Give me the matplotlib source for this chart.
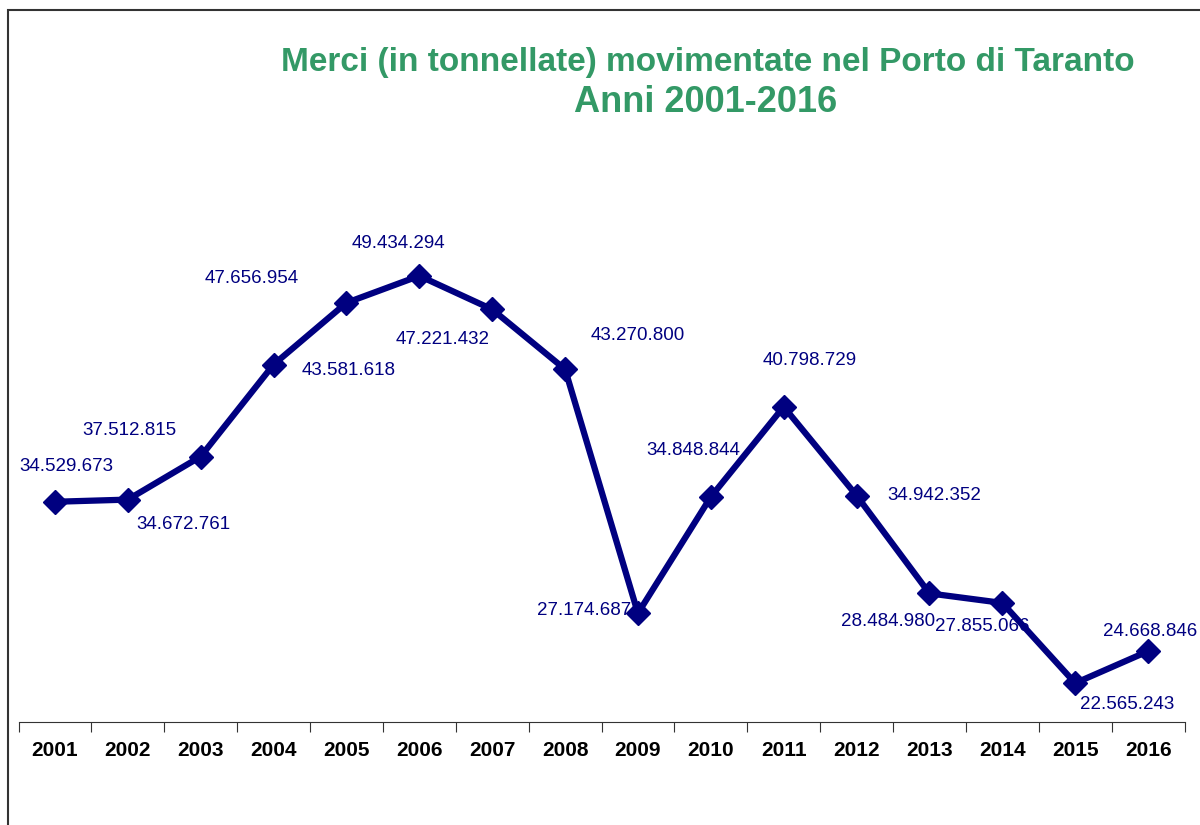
import matplotlib.pyplot as plt
from matplotlib.patches import Rectangle

years = ["2001", "2002", "2003", "2004", "2005", "2006", "2007", "2008",
         "2009", "2010", "2011", "2012", "2013", "2014", "2015", "2016"]
tonnes = [34529673, 34672761, 37512815, 43581618, 47656954, 49434294, 47221432, 43270800,
          27174687, 34848844, 40798729, 34942352, 28484980, 27855066, 22565243, 24668846]

# label offsets in pixels (dx, dy) from each point, picked to mimic the original placement
offsets = [(11, 35), (56, -25), (-71, 26), (75, -6), (-95, 24), (-21, 32), (-50, -30), (73, 34),
           (-54, 3), (-18, 46), (26, 46), (78, 0), (-41, -28), (-20, -24), (52, -21), (2, 20)]

navy = "#000080"
green = "#339966"

plt.rcParams['font.family'] = ['Liberation Sans', 'DejaVu Sans']

fig = plt.figure(figsize=(12, 8.25), dpi=100)
ax = fig.add_axes([18.5 / 1200, 103 / 825, 1166 / 1200, 530.5 / 825])

x = list(range(len(years)))
ax.plot(x, tonnes, color=navy, lw=4.5, marker="D", ms=12, mec=navy, mfc=navy, zorder=3)

def fmt(v):
    return f"{v:,}".replace(",", ".")

for i, v in enumerate(tonnes):
    dx, dy = offsets[i]
    ax.annotate(fmt(v), (i, v), xytext=(dx * 0.72, dy * 0.72), textcoords="offset points",
                ha="center", va="center", color=navy, fontsize=13.5)

ax.set_xlim(-0.5, len(years) - 0.5)
ax.set_ylim(20e6, 55e6)
for s in ["top", "right", "left"]:
    ax.spines[s].set_visible(False)
ax.spines["bottom"].set_color("#333333")
ax.set_yticks([])
ax.set_xticks([i - 0.5 for i in range(len(years) + 1)], minor=False)
ax.set_xticklabels([])
ax.tick_params(axis="x", length=7, color="#333333", direction="out")
ax.set_xticks(x, minor=True)
ax.set_xticklabels(years, minor=True, fontsize=15, fontweight="bold")
ax.tick_params(axis="x", which="minor", length=0, pad=14)

fig.text(708 / 1200, 1 - 62 / 825, "Merci (in tonnellate) movimentate nel Porto di Taranto",
         ha="center", va="center", color=green, fontsize=24, fontweight="bold")
fig.text(706 / 1200, 1 - 102 / 825, "Anni 2001-2016",
         ha="center", va="center", color=green, fontsize=26, fontweight="bold")

fig.patches.append(Rectangle((8 / 1200, -0.1), 1.2, 1.1 - 10 / 825, transform=fig.transFigure,
                             fill=False, ec="#333333", lw=1.5))

fig.savefig("out.png", dpi=100, facecolor="white")
